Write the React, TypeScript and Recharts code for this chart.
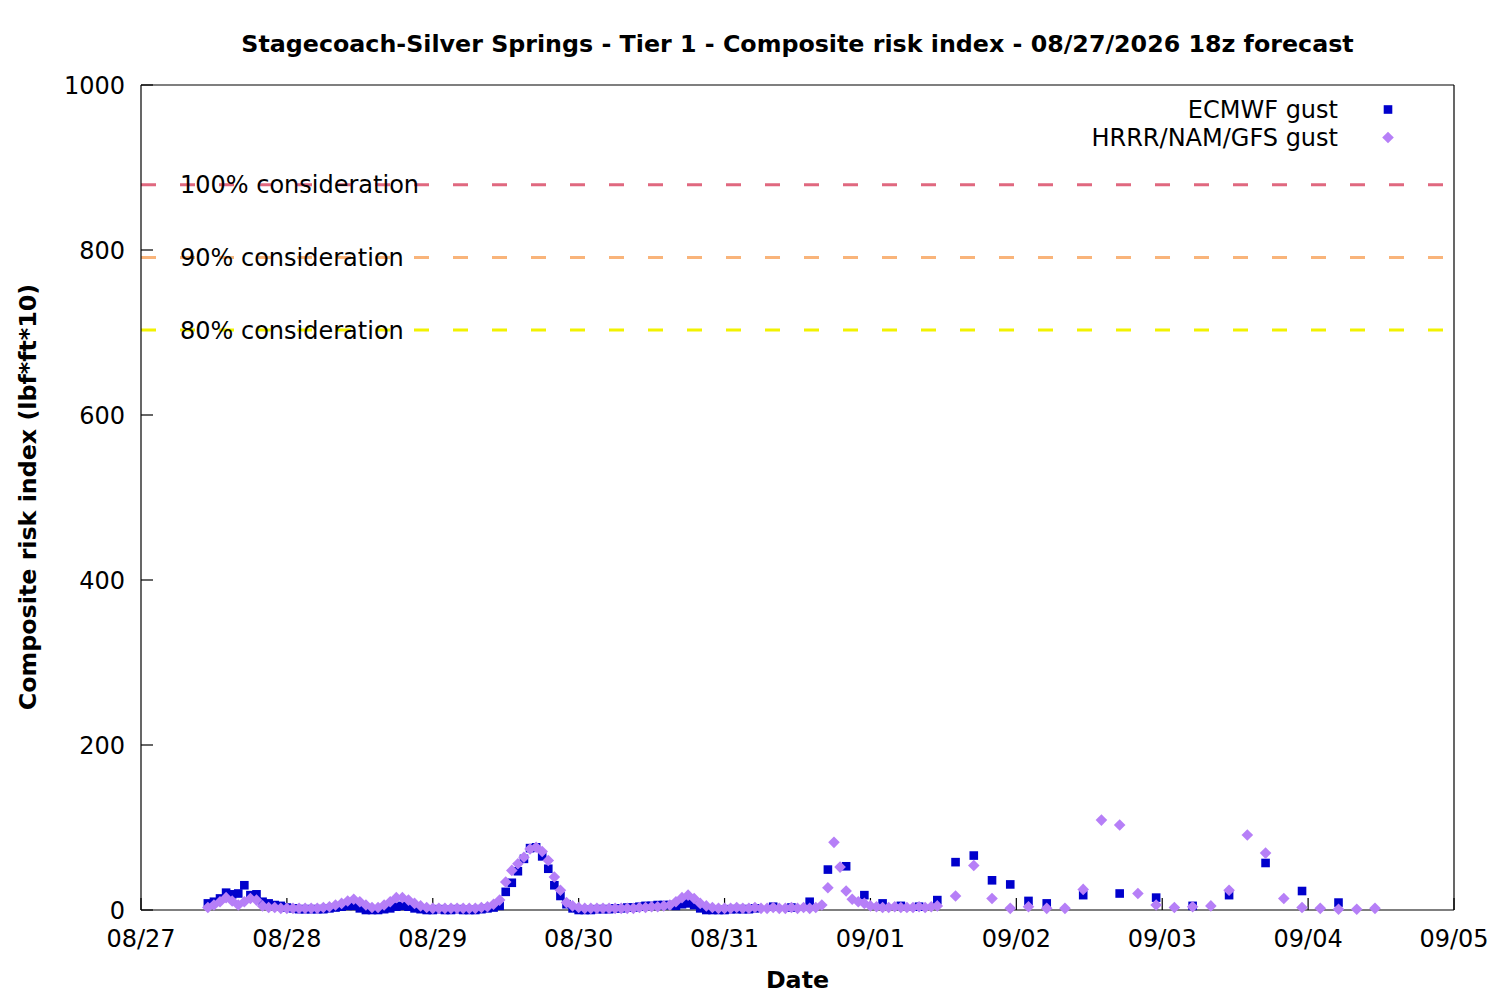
import React from 'react';
import { ScatterChart, Scatter, XAxis, YAxis, ReferenceLine, Legend } from 'recharts';

const FONT = '"DejaVu Sans", Verdana, sans-serif';
const BLUE = '#0000cc';
const PURPLE = '#b67ff7';
const SQ = 8.6;
const DR = 5.8;

const TITLE = 'Stagecoach-Silver Springs - Tier 1 - Composite risk index - 08/27/2026 18z forecast';
const X_LABEL = 'Date';
const Y_LABEL = 'Composite risk index (lbf*ft*10)';

// hours since 08/27 00 local
const DAY_TICKS = [0, 24, 48, 72, 96, 120, 144, 168, 192, 216];
const DAY_LABELS = ['08/27', '08/28', '08/29', '08/30', '08/31', '09/01', '09/02', '09/03', '09/04', '09/05'];
const Y_TICKS = [0, 200, 400, 600, 800, 1000];

const SERIES_NAMES = ['ECMWF gust', 'HRRR/NAM/GFS gust'];

const THRESHOLD_NAMES = ['100% consideration', '90% consideration', '80% consideration'];
const THRESHOLD_VALUES = [879, 791, 703];
const THRESHOLD_COLORS = ['#e0687f', '#f9b47a', '#f2f200'];

// ECMWF gust: hourly from hour 11, then 3-hourly from hour 104, then 6-hourly from hour 155
const ECMWF_HOURLY_START = 11;
const ECMWF_HOURLY = [
  8, 10, 14, 21, 19, 20, 30, 18, 19, 10,
  8, 6, 5, 3, 2, 1, 1, 1, 1, 1,
  2, 3, 4, 5, 5, 2, 0, 0, 0, 1,
  2, 4, 5, 4, 2, 1, 0, 0, 1, 0,
  0, 1, 0, 0, 0, 1, 2, 3, 5, 22,
  33, 47, 62, 75, 76, 65, 50, 30, 17, 7,
  2, 0, 0, 0, 1, 1, 1, 2, 2, 3,
  3, 4, 5, 5, 6, 6, 6, 5, 7, 8,
  6, 2, 0, 0, 0, 0, 1, 1, 1, 1,
  2,
];
const ECMWF_3H_START = 104;
const ECMWF_3H = [4, 3, 10, 49, 53, 18, 8, 5, 4, 12, 58, 66, 36, 31, 11, 8];
const ECMWF_6H_START = 155;
const ECMWF_6H = [18, 20, 15, 5, 18, 57, 23, 9];

// HRRR/NAM/GFS gust: hourly from hour 11, then 3-hourly from hour 134
const HRRR_HOURLY_START = 11;
const HRRR_HOURLY = [
  3, 6, 10, 15, 11, 6, 10, 14, 12, 5,
  3, 3, 2, 2, 2, 2, 2, 2, 2, 3,
  4, 6, 8, 11, 13, 10, 6, 3, 3, 6,
  10, 15, 15, 12, 8, 5, 3, 2, 2, 2,
  2, 2, 2, 2, 2, 3, 4, 7, 12, 34,
  48, 56, 64, 74, 76, 71, 60, 40, 24, 9,
  5, 3, 2, 2, 2, 2, 2, 2, 2, 2,
  2, 3, 3, 4, 4, 5, 6, 10, 15, 18,
  14, 8, 5, 3, 2, 2, 2, 3, 2, 2,
  3, 2, 2, 3, 2, 2, 3, 2, 3, 2,
  3, 6, 27, 82, 52, 23, 13, 10, 8, 5,
  4, 3, 3, 4, 3, 3, 3, 4, 3, 4,
  5,
];
const HRRR_3H_START = 134;
const HRRR_3H = [17, 54, 14, 2, 4, 2, 2, 25, 109, 103, 20, 6, 3, 4, 5, 24, 91, 69, 14, 3, 2, 1, 1, 2];

const seg = (start: number, step: number, values: number[]) =>
  values.map((v, i) => ({ h: start + i * step, v }));

const ecmwfData = [
  ...seg(ECMWF_HOURLY_START, 1, ECMWF_HOURLY),
  ...seg(ECMWF_3H_START, 3, ECMWF_3H),
  ...seg(ECMWF_6H_START, 6, ECMWF_6H),
];
const hrrrData = [
  ...seg(HRRR_HOURLY_START, 1, HRRR_HOURLY),
  ...seg(HRRR_3H_START, 3, HRRR_3H),
];

const dayLabel = (h: number) => {
  const i = DAY_TICKS.indexOf(h);
  return i >= 0 ? DAY_LABELS[i] : '';
};

const Square = (props: any) => {
  const { cx, cy } = props;
  if (cx == null || cy == null) return null;
  return <rect x={cx - SQ / 2} y={cy - SQ / 2} width={SQ} height={SQ} fill={BLUE} />;
};

const Diamond = (props: any) => {
  const { cx, cy } = props;
  if (cx == null || cy == null) return null;
  return <path d={`M${cx},${cy - DR}L${cx + DR},${cy}L${cx},${cy + DR}L${cx - DR},${cy}Z`} fill={PURPLE} />;
};

const TitleLabel = () => (
  <text x={797.5} y={52} textAnchor="middle" fontSize={23.75} fontWeight="bold" fontFamily={FONT} fill="#000">
    {TITLE}
  </text>
);

const XLabel = () => (
  <text x={797.5} y={988} textAnchor="middle" fontSize={23.75} fontWeight="bold" fontFamily={FONT} fill="#000">
    {X_LABEL}
  </text>
);

const YLabel = () => (
  <text
    x={27}
    y={497}
    dy="0.36em"
    transform="rotate(-90 27 497)"
    textAnchor="middle"
    fontSize={23.75}
    fontWeight="bold"
    fontFamily={FONT}
    fill="#000"
  >
    {Y_LABEL}
  </text>
);

const LegendBox = () => (
  <svg width={420} height={60} style={{ display: 'block', overflow: 'visible' }}>
    <text x={338} y={14.5} dy="0.36em" textAnchor="end" fontSize={24} fontFamily={FONT} fill="#000">
      {SERIES_NAMES[0]}
    </text>
    <rect x={388 - SQ / 2} y={14.5 - SQ / 2} width={SQ} height={SQ} fill={BLUE} />
    <text x={338} y={42.5} dy="0.36em" textAnchor="end" fontSize={24} fontFamily={FONT} fill="#000">
      {SERIES_NAMES[1]}
    </text>
    <path d={`M388,${42.5 - DR}L${388 + DR},42.5L388,${42.5 + DR}L${388 - DR},42.5Z`} fill={PURPLE} />
  </svg>
);

const tickStyle = { fontSize: 24, fill: '#000', fontFamily: FONT };

export default function App() {
  return (
    <div style={{ position: 'absolute', left: 0, top: 0, width: 1500, height: 1000, background: '#fff', fontFamily: FONT }}>
      <ScatterChart width={1500} height={1000} margin={{ top: 75, right: 36, bottom: 30, left: 61 }}>
        <XAxis
          xAxisId={0}
          dataKey="h"
          type="number"
          domain={[0, 216]}
          ticks={DAY_TICKS}
          interval={0}
          tickFormatter={dayLabel}
          height={60}
          tickSize={-12}
          tickMargin={32}
          tick={tickStyle}
          axisLine={{ stroke: '#000', strokeWidth: 1.2 }}
          tickLine={{ stroke: '#000', strokeWidth: 1.2 }}
          label={XLabel}
        />
        <XAxis
          xAxisId="t"
          orientation="top"
          type="number"
          domain={[0, 216]}
          ticks={DAY_TICKS}
          interval={0}
          height={10}
          tickSize={-12}
          tick={false}
          axisLine={{ stroke: '#000', strokeWidth: 1.2 }}
          tickLine={{ stroke: '#000', strokeWidth: 1.2 }}
          label={TitleLabel}
        />
        <YAxis
          yAxisId={0}
          dataKey="v"
          type="number"
          domain={[0, 1000]}
          ticks={Y_TICKS}
          interval={0}
          width={80}
          tickSize={-12}
          tickMargin={28}
          tick={tickStyle}
          axisLine={{ stroke: '#000', strokeWidth: 1.2 }}
          tickLine={{ stroke: '#000', strokeWidth: 1.2 }}
          label={YLabel}
        />
        <YAxis
          yAxisId="r"
          orientation="right"
          type="number"
          domain={[0, 1000]}
          ticks={Y_TICKS}
          interval={0}
          width={10}
          tickSize={-12}
          tick={false}
          axisLine={{ stroke: '#000', strokeWidth: 1.2 }}
          tickLine={{ stroke: '#000', strokeWidth: 1.2 }}
        />
        {THRESHOLD_VALUES.map((v, i) => (
          <ReferenceLine
            key={'lab' + i}
            y={v}
            stroke="none"
            label={{ value: THRESHOLD_NAMES[i], position: 'insideLeft', offset: 39, fill: '#000', fontSize: 24, fontFamily: FONT }}
          />
        ))}
        {THRESHOLD_VALUES.map((v, i) => (
          <ReferenceLine key={'line' + i} y={v} stroke={THRESHOLD_COLORS[i]} strokeWidth={3} strokeDasharray="15 24" />
        ))}
        <Scatter name={SERIES_NAMES[0]} data={ecmwfData} shape={Square} isAnimationActive={false} />
        <Scatter name={SERIES_NAMES[1]} data={hrrrData} shape={Diamond} isAnimationActive={false} />
        <Legend
          layout="horizontal"
          align="center"
          verticalAlign="middle"
          content={LegendBox}
          wrapperStyle={{ left: 1000, top: 95, width: 420, height: 60 }}
        />
      </ScatterChart>
    </div>
  );
}
